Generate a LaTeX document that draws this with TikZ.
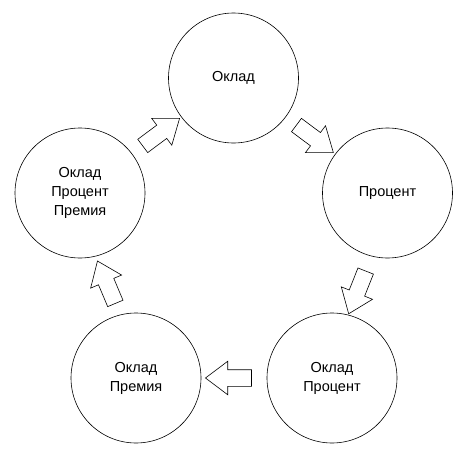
\documentclass[tikz,border=0pt]{standalone}
\usepackage{fontspec}
\setmainfont{Liberation Sans}
\usetikzlibrary{shapes.arrows, positioning}
\tikzset{
    % Style for circles
    krug/.style={
           circle,
           draw=black, line width=0.6pt,
           minimum size=130pt,
           inner sep=2pt,
           align=center,
           font=\fontsize{14.5}{19}\selectfont},
    % Style for block arrows
    strela/.style={
           single arrow,
           draw=black, line width=0.6pt,
           fill=white,
           inner sep=0pt, inner ysep=8pt,
           minimum height=46pt,
           minimum width=33pt,
           single arrow head extend=8.5pt,
           single arrow tip angle=74,
           sloped, allow upside down}
}
\begin{document}
\begin{tikzpicture}[x=1pt, y=-1pt]
\useasboundingbox (0,0) rectangle (464,450);

% Circles
\node[krug] (k1) at (233.5,78) {Оклад};
\node[krug] (k2) at (387.5,193) {Процент};
\node[krug] (k3) at (332,378) {Оклад\\Процент};
\node[krug] (k4) at (136,378) {Оклад\\Премия};
\node[krug] (k5) at (80,193) {Оклад\\Процент\\Премия};

\path
% arrows round the circle
(k5) -- node[strela] {} (k1)
(k1) -- node[strela] {} (k2)
(k2) -- node[strela, pos=0.53, rotate=-5] {} (k3)
(k3) -- node[strela] {} (k4)
(k4) -- node[strela, pos=0.47, rotate=6] {} (k5);

\end{tikzpicture}
\end{document}
